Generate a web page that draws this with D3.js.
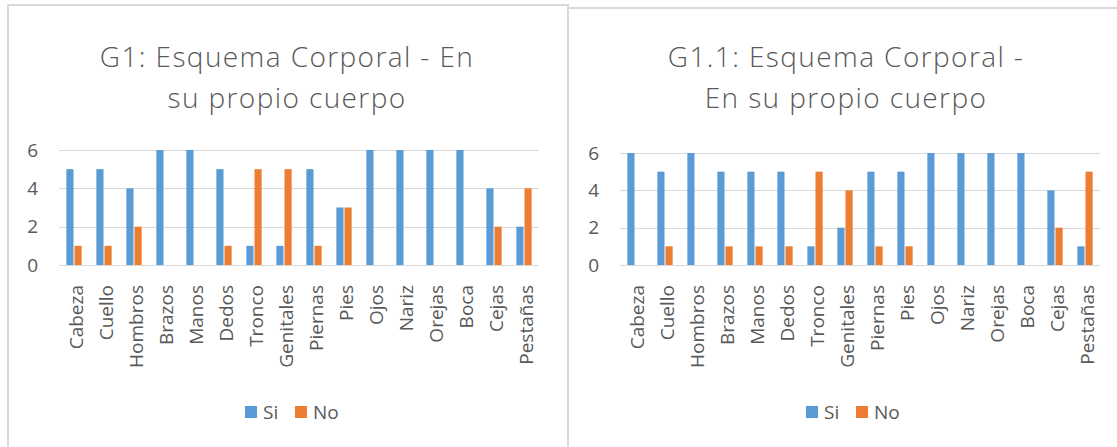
<!DOCTYPE html>
<html>
<head>
<meta charset="utf-8">
<script src="https://cdn.jsdelivr.net/npm/d3@7"></script>
<style>
  body { margin: 0; background: #fff; }
  svg { display: block; font-family: "Open Sans", sans-serif; }
</style>
</head>
<body>
<svg id="viz"></svg>
<script>
// Global Variables
const width = 1117;
const height = 447;
const svg = d3.select("#viz").attr("width", width).attr("height", height);

// Data
const categories = ["Cabeza", "Cuello", "Hombros", "Brazos", "Manos", "Dedos", "Tronco", "Genitales",
  "Piernas", "Pies", "Ojos", "Nariz", "Orejas", "Boca", "Cejas", "Pestañas"];
const seriesNames = ["Si", "No"];
const g1Si = [5, 5, 4, 6, 6, 5, 1, 1, 5, 3, 6, 6, 6, 6, 4, 2];
const g1No = [1, 1, 2, 0, 0, 1, 5, 5, 1, 3, 0, 0, 0, 0, 2, 4];
const g11Si = [6, 5, 6, 5, 5, 5, 1, 2, 5, 5, 6, 6, 6, 6, 4, 1];
const g11No = [0, 1, 0, 1, 1, 1, 5, 4, 1, 1, 0, 0, 0, 0, 2, 5];
const yTicks = [0, 2, 4, 6];
const titles1 = ["G1: Esquema Corporal - En", "su propio cuerpo"];
const titles2 = ["G1.1: Esquema Corporal -", "En su propio cuerpo"];

const colors = { Si: "#5B9BD5", No: "#ED7D31" };
const textColor = "#595959";
const gridColor = "#d9d9d9";

drawChart({
  frame: { x: 8, y: 5, w: 560, h: 460 },
  plot: { left: 59, right: 539, top: 150, bottom: 265 },
  titleX: 287, titleY: [67, 108],
  titles: titles1, si: g1Si, no: g1No
});

drawChart({
  frame: { x: 568, y: 8, w: 560, h: 460 },
  plot: { left: 620, right: 1100, top: 153, bottom: 265 },
  titleX: 846, titleY: [67, 108],
  titles: titles2, si: g11Si, no: g11No
});

function drawChart(cfg) {
  const g = svg.append("g");

  // chart frame
  g.append("rect")
    .attr("x", cfg.frame.x)
    .attr("y", cfg.frame.y)
    .attr("width", cfg.frame.w)
    .attr("height", cfg.frame.h)
    .attr("fill", "#fff")
    .attr("stroke", gridColor)
    .attr("stroke-width", 2);

  // title
  g.selectAll(".title")
    .data(cfg.titles)
    .enter().append("text")
    .attr("x", cfg.titleX)
    .attr("y", (d, i) => cfg.titleY[i])
    .attr("text-anchor", "middle")
    .attr("font-size", 28)
    .attr("font-weight", 300)
    .attr("letter-spacing", "1.4px")
    .attr("fill", textColor)
    .text(d => d);

  const rows = categories.map((c, i) => ({ cat: c, Si: cfg.si[i], No: cfg.no[i] }));

  const x0 = d3.scaleBand()
    .domain(categories)
    .range([cfg.plot.left, cfg.plot.right])
    .paddingInner(0.49)
    .paddingOuter(0.245);
  const x1 = d3.scaleBand()
    .domain(seriesNames)
    .range([0, x0.bandwidth()])
    .paddingInner(0.12);
  const y = d3.scaleLinear()
    .domain([0, 6])
    .range([cfg.plot.bottom, cfg.plot.top]);

  // gridlines
  g.append("g")
    .selectAll("line")
    .data(yTicks)
    .enter().append("line")
    .attr("x1", cfg.plot.left)
    .attr("x2", cfg.plot.right)
    .attr("y1", d => Math.round(y(d)) + 0.5)
    .attr("y2", d => Math.round(y(d)) + 0.5)
    .attr("stroke", gridColor)
    .attr("stroke-width", 1);

  // y axis labels
  const yAxis = g.append("g")
    .attr("transform", `translate(${cfg.plot.left - 21},0)`)
    .call(d3.axisLeft(y).tickValues(yTicks).tickFormat(d3.format("d")).tickSize(0).tickPadding(0));
  yAxis.select(".domain").remove();
  yAxis.selectAll("text")
    .attr("font-family", "Open Sans, sans-serif")
    .attr("font-size", 19)
    .attr("fill", textColor);

  // bars
  g.append("g")
    .selectAll("g")
    .data(rows)
    .enter().append("g")
    .attr("transform", d => `translate(${x0(d.cat)},0)`)
    .selectAll("rect")
    .data(d => seriesNames.map(k => ({ key: k, value: d[k] })).filter(e => e.value > 0))
    .enter().append("rect")
    .attr("x", d => x1(d.key))
    .attr("y", d => y(d.value))
    .attr("width", x1.bandwidth())
    .attr("height", d => y(0) - y(d.value))
    .attr("fill", d => colors[d.key]);

  // x axis labels
  const xAxis = g.append("g")
    .attr("transform", `translate(0,${cfg.plot.bottom + 20})`)
    .call(d3.axisBottom(x0).tickSize(0).tickPadding(0));
  xAxis.select(".domain").remove();
  xAxis.selectAll("text")
    .attr("font-family", "Open Sans, sans-serif")
    .attr("font-size", 19)
    .attr("fill", textColor)
    .attr("transform", "rotate(-90)")
    .attr("text-anchor", "end")
    .attr("x", 0)
    .attr("y", 2)
    .attr("dy", "0.35em");

  // legend
  const legendCx = (cfg.plot.left + cfg.plot.right) / 2;
  const legend = g.append("g").attr("transform", `translate(${legendCx - 54},412)`);
  const item = legend.selectAll("g")
    .data(seriesNames)
    .enter().append("g")
    .attr("transform", (d, i) => `translate(${i * 50},0)`);
  item.append("rect")
    .attr("x", 0)
    .attr("y", -6)
    .attr("width", 12)
    .attr("height", 12)
    .attr("fill", d => colors[d]);
  item.append("text")
    .attr("x", 18)
    .attr("y", 0)
    .attr("dy", "0.35em")
    .attr("font-size", 19)
    .attr("fill", textColor)
    .text(d => d);
}
</script>
</body>
</html>
